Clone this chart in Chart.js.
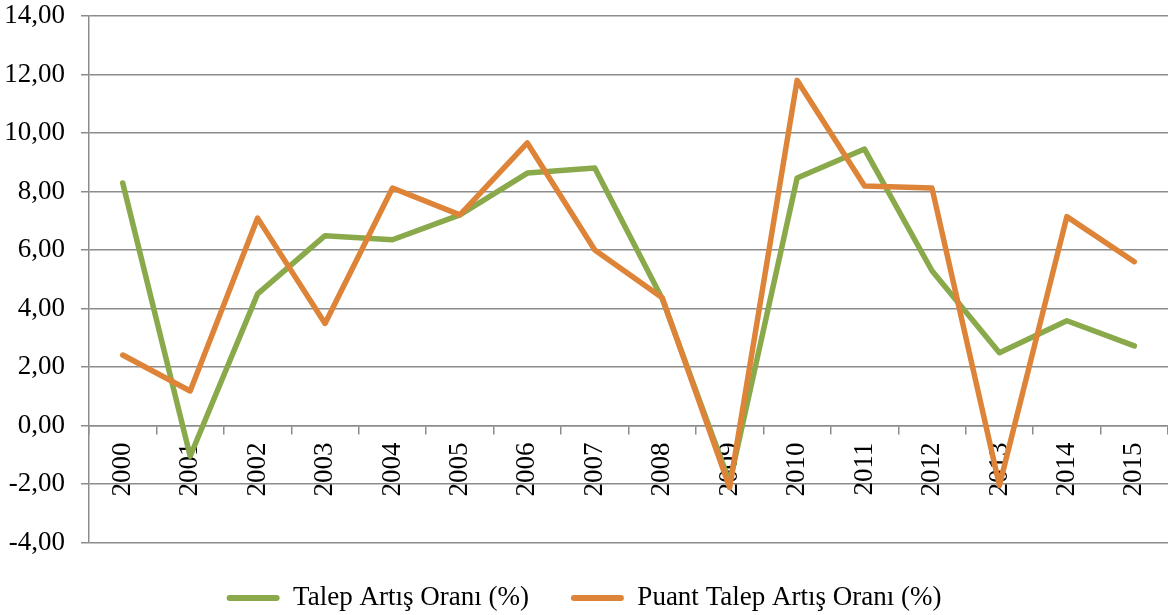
<!DOCTYPE html>
<html>
<head>
<meta charset="utf-8">
<script src="https://cdn.jsdelivr.net/npm/chart.js@4"></script>
<style>
  html, body { margin: 0; padding: 0; background: #fff; }
  #wrap { width: 1168px; height: 615px; }
</style>
</head>
<body>
<div id="wrap"><canvas id="chart"></canvas></div>
<script>
// data
const years = ['2000', '2001', '2002', '2003', '2004', '2005', '2006', '2007',
               '2008', '2009', '2010', '2011', '2012', '2013', '2014', '2015'];
const talep = [8.29, -1.05, 4.50, 6.49, 6.35, 7.20, 8.63, 8.80,
               4.33, -1.95, 8.46, 9.45, 5.29, 2.49, 3.58, 2.72];
const puant = [2.41, 1.18, 7.09, 3.49, 8.12, 7.20, 9.66, 6.00,
               4.37, -2.12, 11.80, 8.19, 8.12, -2.05, 7.14, 5.60];
const yMin = -4, yMax = 14, yStep = 2;

const GREEN = '#89a94b';
const ORANGE = '#de8438';
const GRID = '#8c8c8c';
const FONT = { family: '"Liberation Serif", "Times New Roman", serif', size: 27 };

Chart.defaults.font.family = FONT.family;
Chart.defaults.color = '#000';

new Chart(document.getElementById('chart'), {
    type: 'line',
    data: {
        labels: years,
        datasets: [
            {
                label: 'Talep Artış Oranı (%)',
                data: talep,
                borderColor: GREEN,
                backgroundColor: GREEN,
                borderWidth: 5.5,
                borderCapStyle: 'round',
                borderJoinStyle: 'round',
                pointRadius: 0,
                tension: 0,
                order: 2
            },
            {
                label: 'Puant Talep Artış Oranı (%)',
                data: puant,
                borderColor: ORANGE,
                backgroundColor: ORANGE,
                borderWidth: 5.5,
                borderCapStyle: 'round',
                borderJoinStyle: 'round',
                pointRadius: 0,
                tension: 0,
                order: 1
            }
        ]
    },
    options: {
        responsive: true,
        maintainAspectRatio: false,
        animation: false,
        layout: { padding: { left: 0, right: 0, top: 0, bottom: -6.5 } },
        plugins: {
            tooltip: { enabled: false },
            legend: {
                position: 'bottom',
                labels: {
                    font: FONT,
                    color: '#000',
                    boxWidth: 53,
                    boxHeight: 6,
                    padding: 42,
                    useBorderRadius: true,
                    borderRadius: 3,
                    sort: (a, b) => a.datasetIndex - b.datasetIndex,
                    generateLabels: chart => Chart.defaults.plugins.legend.labels.generateLabels(chart)
                        .map(l => ({ ...l, lineWidth: 0, borderRadius: 3 }))
                }
            }
        },
        scales: {
            x: {
                type: 'category',
                position: { y: 0 },
                offset: true,
                grid: {
                    drawOnChartArea: false,
                    offset: true,
                    color: GRID,
                    lineWidth: 1.5,
                    tickLength: 8
                },
                border: { display: true, color: GRID, width: 1.5 },
                ticks: {
                    font: FONT,
                    color: '#000',
                    autoSkip: false,
                    minRotation: 90,
                    maxRotation: 90,
                    padding: 9
                },
                afterFit: s => { s.paddingLeft = 0; s.paddingRight = 0; }
            },
            y: {
                min: yMin,
                max: yMax,
                grid: {
                    color: GRID,
                    lineWidth: 1.5,
                    tickLength: 8
                },
                border: { display: true, color: GRID, width: 1.5 },
                ticks: {
                    stepSize: yStep,
                    font: FONT,
                    color: '#000',
                    padding: 16,
                    callback: v => v.toFixed(2).replace('.', ',')
                },
                afterFit: s => { s.width = 89; s.paddingTop = 16; }
            }
        }
    }
});
</script>
</body>
</html>
